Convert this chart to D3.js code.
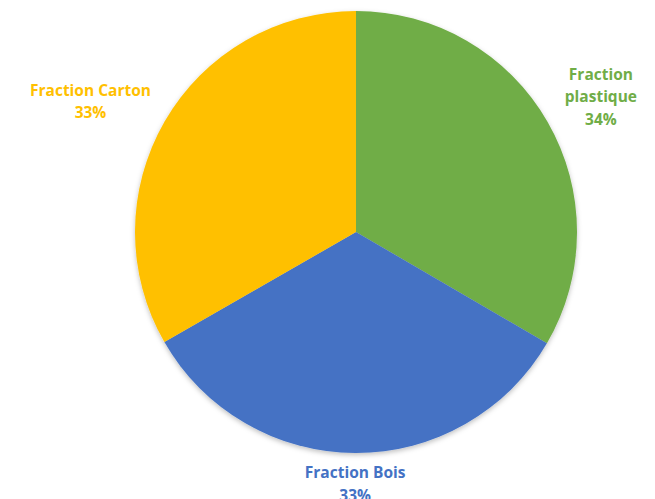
<!DOCTYPE html>
<html>
<head>
<meta charset="utf-8">
<script src="https://cdn.jsdelivr.net/npm/d3@7"></script>
<style>
    body { margin: 0; background: #fff; }
    svg { display: block; }
    .label { font-family: "Open Sans", sans-serif; font-weight: 700; font-size: 15.5px; }
</style>
</head>
<body>
<svg id="chart" width="655" height="499"></svg>
<script>
// slices, clockwise from 12 o'clock
const categories = ['Fraction plastique', 'Fraction Bois', 'Fraction Carton']
const labelLines = [['Fraction', 'plastique'], ['Fraction Bois'], ['Fraction Carton']]
const values = [33.4, 33.3, 33.3]
const percentLabels = ['34%', '33%', '33%']
const colors = ['#70AD47', '#4472C4', '#FFC000']

const svg = d3.select('#chart')
const cx = 356, cy = 232, radius = 221

const defs = svg.append('defs')
const shadow = defs.append('filter').attr('id', 'shadow')
    .attr('x', '-10%').attr('y', '-10%').attr('width', '120%').attr('height', '120%')
shadow.append('feDropShadow')
    .attr('dx', 0).attr('dy', 2).attr('stdDeviation', 2.5)
    .attr('flood-color', '#000').attr('flood-opacity', 0.25)

const color = d3.scaleOrdinal().domain(categories).range(colors)

const pie = d3.pie().sort(null).value(d => d.value)
const data = categories.map((c, i) => ({ name: c, value: values[i], lines: labelLines[i], pct: percentLabels[i] }))
const arcs = pie(data)

const arc = d3.arc().innerRadius(0).outerRadius(radius)

const g = svg.append('g').attr('transform', `translate(${cx},${cy})`)

g.append('g').attr('filter', 'url(#shadow)')
    .selectAll('path')
    .data(arcs)
    .enter().append('path')
    .attr('d', arc)
    .attr('fill', d => color(d.data.name))

// labels placed outside, Excel "best fit" style
const lineH = 22.5
const labels = g.selectAll('text.label')
    .data(arcs)
    .enter().append('text')
    .attr('class', 'label')
    .attr('text-anchor', 'middle')
    .attr('fill', d => color(d.data.name))

labels.each(function (d) {
    const t = d3.select(this)
    const lines = d.data.lines.concat([d.data.pct])
    lines.forEach((l, i) => {
        t.append('tspan').attr('x', 0).attr('dy', i === 0 ? 0 : lineH).text(l)
    })
    const bb = this.getBBox()
    const mid = (d.startAngle + d.endAngle) / 2
    const s = Math.abs(Math.sin(mid))
    const pad = 8 + 20 * s
    const ax = Math.sin(mid) * (radius + pad)
    const ay = -Math.cos(mid) * (radius + pad)
    const bx = ax + Math.sin(mid) * bb.width / 2
    const by = ay - Math.cos(mid) * bb.height / 2 + 4 * s
    // shift so the block's centre lands on (bx, by)
    const offY = by - (bb.y + bb.height / 2)
    t.attr('transform', `translate(${bx},${offY})`)
})
</script>
</body>
</html>
